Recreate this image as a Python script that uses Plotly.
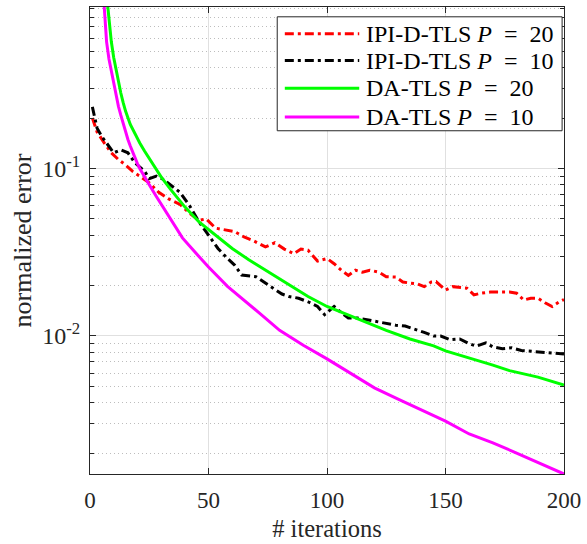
import plotly.graph_objects as go
import numpy as np

# ---------------- data ----------------
ipi20_x = [1, 3, 6, 9, 12, 15, 18, 22, 25, 29, 33, 38, 42, 46, 49, 53, 57, 61, 65, 69, 74, 78,
           82, 86, 89, 92, 96, 100, 103, 106, 109, 112, 115, 118, 122, 125, 129, 132, 135, 138,
           141, 144, 146, 148, 150, 153, 156, 159, 162, 165, 169, 173, 177, 180, 183, 186, 189,
           192, 195, 198, 200]
ipi20_y = [0.200, 0.165, 0.142, 0.124, 0.113, 0.105, 0.096, 0.088, 0.082, 0.072, 0.066, 0.061,
           0.054, 0.049, 0.050, 0.044, 0.043, 0.042, 0.039, 0.037, 0.034, 0.036, 0.033, 0.031,
           0.033, 0.0325, 0.028, 0.029, 0.027, 0.0247, 0.023, 0.0247, 0.024, 0.0247, 0.024,
           0.0226, 0.0225, 0.021, 0.0207, 0.0205, 0.0197, 0.021, 0.0211, 0.020, 0.0188, 0.0197,
           0.0195, 0.0193, 0.0176, 0.018, 0.0183, 0.0183, 0.0183, 0.018, 0.0164, 0.0168, 0.0168,
           0.0158, 0.0150, 0.0160, 0.0165]

ipi10_x = [1, 3, 5, 8, 10, 13, 16, 19, 23, 25, 28, 31, 34, 38, 42, 46, 50, 54, 58, 61, 64, 67,
           70, 74, 78, 81, 84, 88, 92, 96, 99, 103, 106, 109, 113, 117, 121, 125, 129, 133, 137,
           141, 145, 148, 152, 156, 160, 163, 167, 170, 174, 178, 182, 186, 190, 194, 197, 200]
ipi10_y = [0.233, 0.174, 0.155, 0.135, 0.124, 0.129, 0.124, 0.108, 0.0964, 0.087, 0.090, 0.086,
           0.080, 0.072, 0.060, 0.048, 0.040, 0.0333, 0.029, 0.0265, 0.0231, 0.0228, 0.0226,
           0.0207, 0.019, 0.0178, 0.0172, 0.0168, 0.0160, 0.0150, 0.0134, 0.0150, 0.0138,
           0.0128, 0.0128, 0.0125, 0.0122, 0.0118, 0.0116, 0.01146, 0.0110, 0.0105, 0.0100,
           0.0100, 0.0095, 0.0096, 0.0090, 0.0087, 0.0091, 0.0086, 0.0084, 0.0085, 0.0082,
           0.0081, 0.0080, 0.0079, 0.0078, 0.0078]

da20_x = [6, 8, 9, 10, 11, 12, 13, 14, 15, 17, 19, 21, 23, 25, 27, 30, 34, 40, 46, 53, 60, 67,
          74, 80, 85, 92, 100, 108, 117, 125, 135, 145, 150, 160, 170, 177, 189, 200]
da20_y = [1.5, 0.741, 0.57, 0.46, 0.385, 0.325, 0.282, 0.247, 0.22, 0.183, 0.16, 0.142, 0.127,
          0.115, 0.104, 0.089, 0.075, 0.059, 0.048, 0.040, 0.0333, 0.0285, 0.0247, 0.0218,
          0.0197, 0.0172, 0.0150, 0.0135, 0.0120, 0.0108, 0.0096, 0.00873, 0.00815, 0.0074,
          0.0067, 0.00621, 0.00568, 0.00510]

da10_x = [5, 7, 8, 9, 10, 11, 12, 13, 14, 15, 16, 17, 18, 19, 20, 21, 23, 25, 28, 31, 35, 39,
          44, 50, 58, 65, 72, 80, 90, 100, 110, 120, 130, 140, 150, 160, 170, 180, 190, 200]
da10_y = [1.5, 0.57, 0.45, 0.38, 0.315, 0.27, 0.235, 0.208, 0.184, 0.165, 0.149, 0.136, 0.125,
          0.115, 0.107, 0.100, 0.089, 0.080, 0.068, 0.058, 0.047, 0.0385, 0.032, 0.0258,
          0.0198, 0.0164, 0.0135, 0.0108, 0.0088, 0.0073, 0.0060, 0.0049, 0.0042, 0.0036,
          0.0031, 0.0026, 0.0023, 0.0020, 0.00173, 0.00150]

names = ["IPI-D-TLS <i>P</i>\u2002=\u200220", "IPI-D-TLS <i>P</i>\u2002=\u200210",
         "DA-TLS <i>P</i>\u2002=\u200220", "DA-TLS <i>P</i>\u2002=\u200210"]

x_ticks = [0, 50, 100, 150, 200]
y_ticks = [0.01, 0.1]
y_ticktext = ["10<sup>-2</sup>", "10<sup>-1</sup>"]
y_minor = [m * 10.0 ** e for e in (-3, -2, -1) for m in range(2, 10)]

# ---------------- figure ----------------
FONT = "'Liberation Serif', 'Times New Roman', serif"
DASHDOT = "9px,4px,3px,4px"
colors = ["#ff0000", "#000000", "#00ff00", "#ff00ff"]
dashes = [DASHDOT, DASHDOT, "solid", "solid"]
axcol = "#262626"

fig = go.Figure()
series = [(ipi20_x, ipi20_y), (ipi10_x, ipi10_y), (da20_x, da20_y), (da10_x, da10_y)]
for (xs, ys), col, dash, nm in zip(series, colors, dashes, names):
    fig.add_trace(go.Scatter(x=xs, y=ys, mode="lines", name=nm, showlegend=False,
                             line=dict(color=col, width=3, dash=dash)))

# ---- legend box drawn in paper coordinates (MATLAB-style long sample lines) ----
lg_x0, lg_x1, lg_y0, lg_y1 = 0.395, 0.996, 0.735, 0.979
row_y = [0.9427, 0.8854, 0.8259, 0.7643]
line_x0, line_x1, text_x = 0.411, 0.568, 0.578
shapes = [dict(type="rect", xref="paper", yref="paper", x0=lg_x0, x1=lg_x1, y0=lg_y0, y1=lg_y1,
               line=dict(color=axcol, width=1), fillcolor="white", layer="above")]
annotations = []
for ry, col, dash, nm in zip(row_y, colors, dashes, names):
    shapes.append(dict(type="line", xref="paper", yref="paper", x0=line_x0, x1=line_x1,
                       y0=ry, y1=ry, line=dict(color=col, width=3, dash=dash), layer="above"))
    annotations.append(dict(xref="paper", yref="paper", x=text_x, y=ry, text=nm,
                            showarrow=False, xanchor="left", yanchor="middle",
                            font=dict(family=FONT, size=24, color="#000")))

fig.update_layout(
    width=587, height=544,
    margin=dict(l=89.5, r=18, t=6, b=67),
    plot_bgcolor="white", paper_bgcolor="white",
    font=dict(family=FONT, size=23, color=axcol),
    showlegend=False,
    shapes=shapes, annotations=annotations,
    xaxis=dict(range=[0, 200], tickvals=x_ticks, ticks="inside", ticklen=6,
               tickcolor=axcol, showline=True, linecolor=axcol, linewidth=1,
               mirror="ticks", showgrid=True, gridcolor="#e0e0e0", gridwidth=1,
               zeroline=False, ticklabelstandoff=5,
               title=dict(text="# iterations", font=dict(family=FONT, size=24.5), standoff=8),
               tickfont=dict(family=FONT, size=23)),
    yaxis=dict(type="log", range=[np.log10(0.0015), np.log10(0.92)],
               tickvals=y_ticks, ticktext=y_ticktext, ticks="inside", ticklen=6,
               tickcolor=axcol, showline=True, linecolor=axcol, linewidth=1,
               mirror="ticks", showgrid=True, gridcolor="#e0e0e0", gridwidth=1,
               zeroline=False, ticklabelstandoff=4,
               minor=dict(tickvals=y_minor, ticks="inside", ticklen=4, tickcolor=axcol,
                          showgrid=True, gridcolor="#bdbdbd", griddash="1px,3px", gridwidth=1),
               title=dict(text="normalized error", font=dict(family=FONT, size=26), standoff=3),
               tickfont=dict(family=FONT, size=24)),
)

fig.write_html("out.html")
